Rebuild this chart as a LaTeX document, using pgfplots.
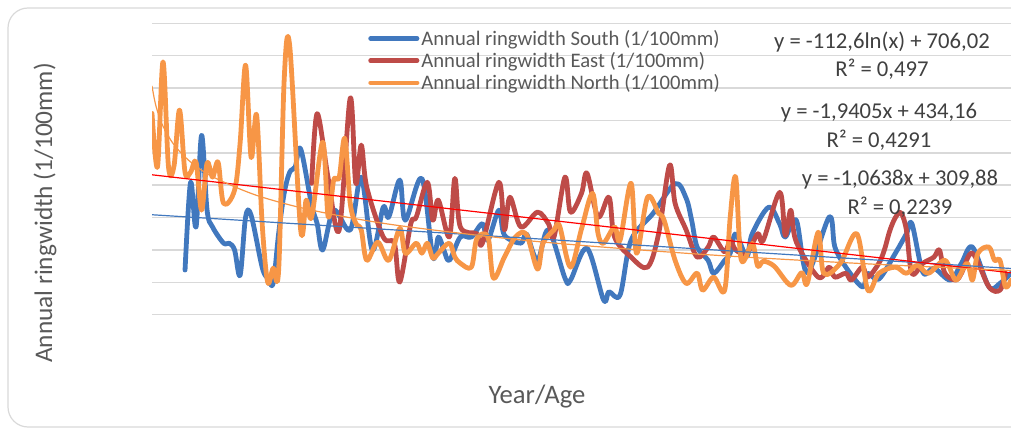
\documentclass[border=0pt]{standalone}
\usepackage{pgfplots}
\pgfplotsset{compat=1.18}
\usepackage{pgfplotstable}
\usepackage{fontspec}
\setmainfont{Carlito}
\definecolor{cS}{HTML}{4178BE}
\definecolor{cE}{HTML}{BE4B48}
\definecolor{cN}{HTML}{F79646}
\definecolor{gridc}{HTML}{D9D9D9}
\definecolor{txt}{HTML}{595959}
\definecolor{eqtxt}{HTML}{404040}

\pgfplotstableread{
x y
7 138
8 409
9 271
10 554
11 323
12 271
14 221
15 221
16 200
17 122
18 302
19 307
21 147
22 113
23 97
24 251
25 375
26 440
27 456
28 512
30 338
31 281
32 200
34 323
37 262
39 425
41 200
43 332
44 302
46 416
47 292
50 421
52 178
53 240
54 200
55 168
57 240
59 240
61 281
62 230
64 323
65 246
68 221
69 250
71 168
73 262
76 113
77 107
80 205
83 46
84 71
86 61
88 230
92 313
96 405
98 360
99 292
100 209
102 168
103 128
105 168
106 190
107 250
109 180
110 250
113 332
115 280
116 240
118 292
120 130
124 302
125 210
127 147
130 86
131 128
133 110
136 190
138 250
139 281
141 131
143 144
146 107
148 159
150 209
153 86
155 97
157 128
}\south

\pgfplotstableread{
x y
30 406
31 621
33 421
35 262
37 669
38 406
39 524
40 394
43 240
45 221
46 101
48 281
49 302
51 409
52 292
53 354
55 240
56 421
57 271
60 250
61 221
64 409
65 262
66 363
68 271
71 317
73 281
74 240
76 425
77 317
79 375
80 437
82 302
84 363
85 240
88 178
91 147
93 250
95 462
96 344
98 262
100 178
102 209
103 240
105 194
106 230
107 200
109 190
111 250
112 230
115 378
116 245
117 323
118 225
122 116
124 147
125 116
127 128
128 107
130 147
131 116
133 159
134 200
135 260
136 300
137 315
138 262
139 128
141 159
143 178
144 200
145 128
147 107
148 128
150 190
153 86
155 76
156 128
}\east

\pgfplotstableread{
x y
1 622
2 457
3 781
4 456
5 460
6 632
7 440
8 440
9 471
10 323
11 468
12 425
13 471
14 344
16 385
17 530
18 771
19 486
20 616
21 283
22 101
23 144
24 138
25 724
26 832
28 262
29 354
30 302
32 533
33 302
34 416
35 425
36 545
37 344
38 283
39 262
40 168
42 224
44 168
46 267
47 190
49 221
50 190
51 221
52 175
53 190
55 221
56 178
57 159
59 147
60 235
62 240
63 113
65 178
67 240
69 248
71 141
72 221
74 262
75 275
77 147
79 265
81 375
82 251
83 221
85 271
86 230
88 406
89 190
91 363
93 313
94 292
96 168
98 97
100 128
101 76
103 116
105 76
106 300
107 425
108 170
110 220
111 150
112 165
114 150
117 91
119 130
120 97
122 255
123 128
126 159
129 250
131 76
133 128
136 147
138 128
140 153
142 128
145 168
147 107
149 159
150 107
151 190
153 209
154 168
155 168
156 86
157 107
}\north

\begin{document}
\begin{tikzpicture}
\useasboundingbox (0,0) rectangle (758.25pt,321.75pt);
\draw[gridc, line width=0.9pt, rounded corners=15pt] (775pt,315.75pt) -- (6pt,315.75pt) -- (6pt,1.5pt) -- (775pt,1.5pt);
\begin{axis}[
  at={(114pt,85.7pt)}, anchor=south west,
  scale only axis, width=644.25pt, height=218.55pt,
  xmin=1, xmax=157, ymin=0, ymax=900,
  axis line style={draw=none},
  tick style={draw=none},
  xtick=\empty,
  ytick={0,100,...,900}, yticklabels={},
  ymajorgrids, grid style={gridc, line width=1.1pt},
  legend style={at={(axis description cs:0.2515,0.985)}, anchor=north west,
    draw=none, fill=none, font=\fontsize{15.5}{17}\selectfont, text=txt,
    inner sep=0pt, row sep=0.75pt,
    nodes={inner sep=1.5pt}},
  legend cell align=left,
  legend image code/.code={\draw[#1, line width=3.3pt, line cap=round] (0pt,0pt) -- (35pt,0pt);},
  every axis plot/.append style={line join=round, line cap=round},
]
\addplot[cS, line width=3.6pt, smooth, tension=0.55] table[x=x,y=y] {\south};
\addlegendentry{Annual ringwidth South (1/100mm)}
\addplot[cE, line width=3.6pt, smooth, tension=0.55] table[x=x,y=y] {\east};
\addlegendentry{Annual ringwidth East (1/100mm)}
\addplot[cN, line width=3.6pt, smooth, tension=0.55] table[x=x,y=y] {\north};
\addlegendentry{Annual ringwidth North (1/100mm)}
% trendlines
\addplot[cS, line width=0.9pt, forget plot] coordinates {(1,308.82) (157,142.86)};
\addplot[red, line width=0.9pt, forget plot] coordinates {(1,432.22) (157,129.50)};
\addplot[cN, line width=0.9pt, smooth, forget plot] coordinates {(1,706.02) (1.5,660.37) (2,627.97) (3,582.32) (5,524.80) (8,471.88) (12,426.22) (20,368.70) (30,323.04) (45,277.39) (70,227.64) (100,187.48) (130,157.94) (157,136.69)};
\end{axis}
\begin{scope}[every node/.style={font=\fontsize{17}{19}\selectfont, text=eqtxt}]
\node at (661.5pt,290.25pt) {y = -112,6ln(x) + 706,02};
\node at (661.5pt,269.5pt) {R² = 0,497};
\node at (659.25pt,237.5pt) {y = -1,9405x + 434,16};
\node at (659.25pt,216.25pt) {R² = 0,4291};
\node at (675pt,187pt) {y = -1,0638x + 309,88};
\node at (675pt,166.5pt) {R² = 0,2239};
\end{scope}
\node[rotate=90, text=txt, font=\fontsize{19}{22}\selectfont] at (33.75pt,162pt) {Annual ringwidth (1/100mm)};
\node[text=txt, font=\fontsize{20}{23}\selectfont] at (402.75pt,24pt) {Year/Age};
\end{tikzpicture}
\end{document}
